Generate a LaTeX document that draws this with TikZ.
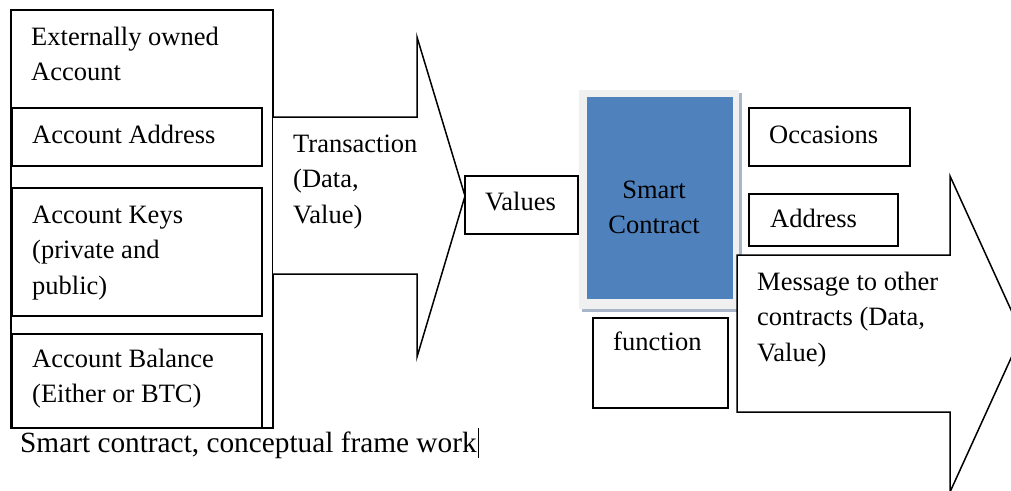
\documentclass[tikz,border=0pt]{standalone}
\usepackage{fontspec}
\setmainfont{Liberation Serif}
\usepackage{tikz}
\definecolor{scblue}{HTML}{4F81BD}
\definecolor{scrim}{HTML}{F0F0F0}
\definecolor{scshade}{HTML}{A9B5C8}
\tikzset{
  box/.style={draw, line width=1.5pt, anchor=north west, inner sep=0pt, outer sep=0pt},
  txt/.style={anchor=base west, inner sep=0pt, align=left},
  blockarrow/.style={draw, fill=white, line width=1.5pt, line join=miter}
}

\begin{document}
\begin{tikzpicture}[x=1pt, y=-1pt, font=\fontsize{26.5}{35.5}\selectfont]
      \useasboundingbox (0,0) rectangle (1011,490);
      % account side (multi-line texts sit on their last baseline)
      \node[box, minimum width=262pt, minimum height=418pt] (eoa) at (11,10) {};
      \node[box, minimum width=250pt, minimum height=58pt] (addr) at (12,108) {};
      \node[box, minimum width=250pt, minimum height=128pt] (keys) at (12,188) {};
      \node[box, minimum width=250pt, minimum height=94pt] (bal) at (12,334) {};
      \node[txt] (eoatxt) at ([shift={(20,70.5)}]eoa.north west) {Externally owned\\Account};
      \node[txt] (addrtxt) at ([shift={(20,35)}]addr.north west) {Account Address};
      \node[txt] (keystxt) at ([shift={(20,106)}]keys.north west) {Account Keys\\(private and\\public)};
      \node[txt] (baltxt) at ([shift={(20,68.5)}]bal.north west) {Account Balance\\(Either or BTC)};
      % transaction arrow
      \coordinate (t1) at (273,117);
      \coordinate (t2) at (273,274);
      \draw[blockarrow] (t1) -- (417,117) -- (417,37) -- (465,196) -- (417,357) -- (417,274) -- (t2);
      \node[txt] (trans) at (293,223) {Transaction\\(Data,\\Value)};
      \node[box, minimum width=113pt, minimum height=58pt] (vals) at (465,176) {};
      \node[txt] (valstxt) at ([shift={(20,34)}]vals.north west) {Values};
      % smart contract
      \fill[scshade] (582,93) rectangle (742,312);
      \fill[scrim] (579,90) rectangle (739,309);
      \node[fill=scblue, anchor=north west, inner sep=0pt, minimum width=146pt, minimum height=202pt] (sc) at (587,97) {};
      \node[anchor=base, inner sep=0pt, align=center] (sctxt) at (654,233.5) {Smart\\Contract};
      \node[box, minimum width=161pt, minimum height=58pt] (occ) at (749,108) {};
      \node[txt] (occtxt) at ([shift={(20,35)}]occ.north west) {Occasions};
      \node[box, minimum width=149pt, minimum height=52pt] (scaddr) at (749,194) {};
      \node[txt] (scaddrtxt) at ([shift={(21,33)}]scaddr.north west) {Address};
      \node[box, minimum width=135pt, minimum height=90pt] (func) at (593,318) {};
      \node[txt] (functxt) at ([shift={(20,32)}]func.north west) {function};
      % message arrow
      \draw[blockarrow] (737,255) -- (950,255) -- (950,176) -- (1022,334) -- (950,492) -- (950,412) -- (737,412) -- cycle;
      \node[txt] (msg) at (757,361) {Message to other\\contracts (Data,\\Value)};
      \node[txt, font=\fontsize{29.3}{35}\selectfont] (caption) at (20,452) {Smart contract, conceptual frame work};
      \draw[line width=1pt] (478,428) -- (478,458);
\end{tikzpicture}
\end{document}
